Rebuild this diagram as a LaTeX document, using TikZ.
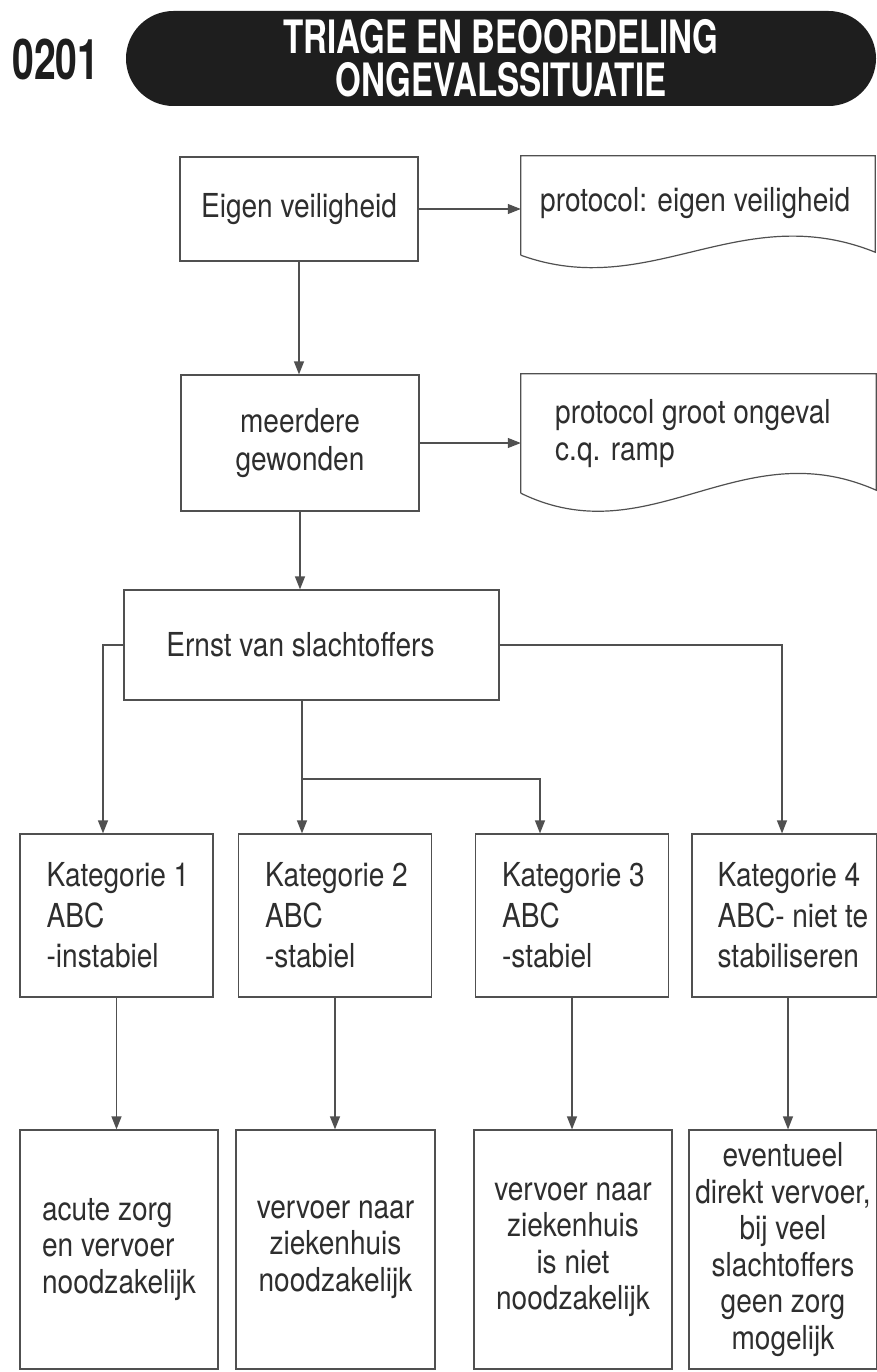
\documentclass[tikz,border=0pt]{standalone}
\usepackage{fontspec}
\setmainfont{TeX Gyre Heros}[FakeStretch=0.85]
\newfontfamily\titlefont{TeX Gyre Heros}[FakeStretch=0.72]
\newfontfamily\numfont{TeX Gyre Heros}[FakeStretch=0.7]
\usetikzlibrary{arrows.meta,shapes.misc}
\definecolor{ink}{HTML}{2E2E2E}
\definecolor{edge}{HTML}{505050}
\definecolor{pillfill}{HTML}{1E1E1E}
\begin{document}
\begin{tikzpicture}[x=1pt,y=-1pt,
  box/.style={draw=edge, line width=1.2pt, rectangle, inner sep=0pt, text=ink,
    font=\fontsize{33}{38}\selectfont, align=center},
  katbox/.style={box, minimum width=193pt, minimum height=163pt},
  kattext/.style={anchor=west, xshift=27pt, inner sep=0pt, text=ink, align=left,
    font=\fontsize{33}{40.5}\selectfont},
  endbox/.style={box, minimum width=198pt, minimum height=239pt,
    font=\fontsize{33}{36.5}\selectfont},
  docframe/.style={rectangle, inner sep=0pt},
  doctext/.style={anchor=west, inner sep=0pt, text=ink, align=left,
    font=\fontsize{33}{37}\selectfont},
  docline/.style={draw=edge, line width=1.2pt},
  conn/.style={draw=edge, line width=1.2pt},
  arr/.style={conn, -{Triangle[length=13pt,width=10pt]}},
]
\useasboundingbox (0,0) rectangle (877,1372);
\fill[white] (0,0) rectangle (877,1372);

% header
\node[inner sep=0pt, text=pillfill, font=\numfont\bfseries\fontsize{56}{56}\selectfont] (code) at (56,59) {0201};
\node[rounded rectangle, fill=pillfill, minimum width=750pt, minimum height=95pt, inner sep=0pt,
  text=white, align=center, font=\titlefont\bfseries\fontsize{46}{43}\selectfont]
  (title) at (501,58.5) {TRIAGE EN BEOORDELING\\ONGEVALSSITUATIE};

% main column
\node[box, minimum width=238pt, minimum height=104pt] (eigen) at (299,209) {Eigen veiligheid};
\node[box, minimum width=238pt, minimum height=136pt] (meer) at (300,443) {meerdere\\gewonden};
\node[box, minimum width=375pt, minimum height=110pt] (ernst) at (311.5,645) {\hspace*{-22pt}Ernst van slachtoffers};

% documents
\node[docframe, minimum width=354pt, minimum height=99pt] (doc1) at (698,205.5) {};
\draw[docline] (doc1.south west) -- (doc1.north west) -- (doc1.north east) -- ([yshift=3pt]doc1.south east)
  .. controls (740,198) and (650,302) .. (doc1.south west);
\node[doctext] (doc1t) at (540,203) {protocol: eigen veiligheid};

\node[docframe, minimum width=355pt, minimum height=119pt] (doc2) at (698.5,433.5) {};
\draw[docline] (doc2.south west) -- (doc2.north west) -- (doc2.north east) -- ([yshift=3pt]doc2.south east)
  .. controls (740,430) and (650,556) .. (doc2.south west);
\node[doctext] (doc2t) at (555,434) {protocol groot ongeval\\c.q. ramp};

% categories
\node[katbox] (k1) at (116.5,915.5) {};
\node[kattext] (k1t) at (k1.west) {Kategorie 1\\ABC\\-instabiel};
\node[katbox] (k2) at (335,915.5) {};
\node[kattext] (k2t) at (k2.west) {Kategorie 2\\ABC\\-stabiel};
\node[katbox] (k3) at (572,915.5) {};
\node[kattext] (k3t) at (k3.west) {Kategorie 3\\ABC\\-stabiel};
\node[katbox, minimum width=185pt] (k4) at (784.5,915.5) {};
\node[kattext, xshift=-1pt] (k4t) at (k4.west) {Kategorie 4\\ABC- niet te\\stabiliseren};

% outcomes
\node[endbox, align=left] (b1) at (119,1249.5) {acute zorg\\en vervoer\\noodzakelijk};
\node[endbox, minimum width=199pt] (b2) at (335.5,1249.5) {vervoer naar\\ziekenhuis\\noodzakelijk};
\node[endbox] (b3) at (573,1249.5) {vervoer naar\\ziekenhuis\\is niet\\noodzakelijk};
\node[endbox, minimum width=188pt] (b4) at (783,1249.5) {eventueel\\direkt vervoer,\\bij veel\\slachtoffers\\geen zorg\\mogelijk};

% connectors
\draw[arr] (eigen.east) -- (eigen.east -| doc1.west);
\draw[arr] (eigen.south) -- (eigen.south |- meer.north);
\draw[arr] (meer.east) -- (meer.east -| doc2.west);
\draw[arr] (meer.south) -- (meer.south |- ernst.north);

\draw[arr] (ernst.west) -| ([xshift=-13.5pt]k1.north);
\draw[arr] (ernst.east) -| ([xshift=-2.5pt]k4.north);
\coordinate (split) at (302,779);
\draw[conn] ([xshift=-9.5pt]ernst.south) -- (split);
\draw[arr] (split) -- ([xshift=-33pt]k2.north);
\draw[arr] (split) -| ([xshift=-32pt]k3.north);

\draw[arr] (k1.south) -- (k1.south |- b1.north);
\draw[arr] (k2.south) -- (k2.south |- b2.north);
\draw[arr] (k3.south) -- (k3.south |- b3.north);
\draw[arr] ([xshift=3.5pt]k4.south) -- ([xshift=3.5pt]k4.south |- b4.north);
\end{tikzpicture}
\end{document}
